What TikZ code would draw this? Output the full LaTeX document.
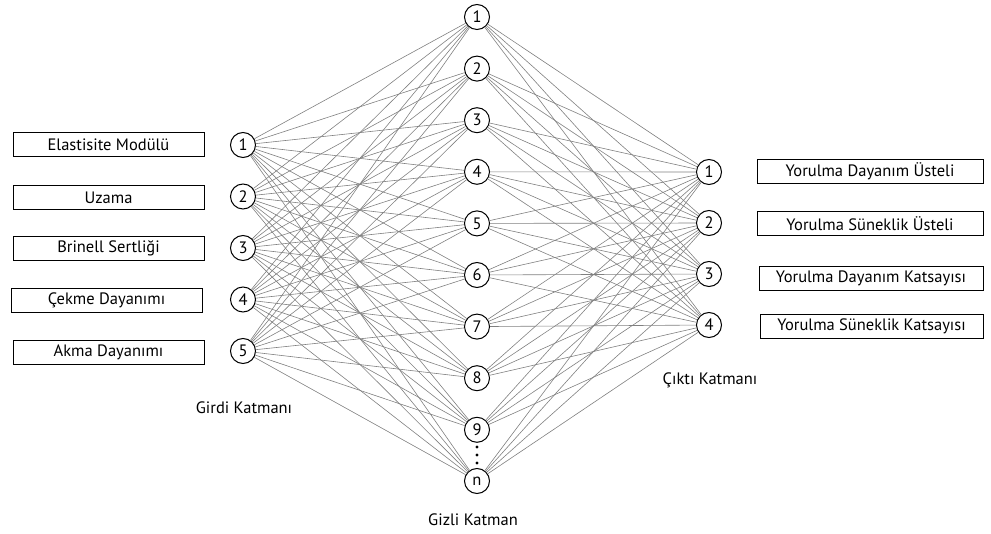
\documentclass[tikz,border=0pt]{standalone}
\usepackage{fontspec}
\setmainfont{PT Sans}
\begin{document}
\begin{tikzpicture}[x=1pt,y=-1pt,
  neuron/.style={circle,draw,line width=1pt,minimum size=25pt,inner sep=0pt,
    font=\fontsize{16.5}{16}\selectfont},
  labelbox/.style={draw,line width=1pt,minimum height=24pt,inner sep=0pt,
    font=\fontsize{16.5}{18}\selectfont},
  link/.style={draw=black!50,line width=0.6pt},
  layername/.style={font=\fontsize{16.5}{18}\selectfont}]
\useasboundingbox (0,0) rectangle (991,534);

% input layer
\foreach \i in {1,...,5}
  \node[neuron] (in\i) at (243,{145+51.5*(\i-1)}) {\i};
% hidden layer
\foreach \i in {1,...,9}
  \node[neuron] (hid\i) at (477,{17+51.6*(\i-1)}) {\i};
\node[neuron] (hid10) at (477,481) {n};
% output layer
\foreach \i in {1,...,4}
  \node[neuron] (out\i) at (709,{172+51*(\i-1)}) {\i};

% dense connections
\foreach \i in {1,...,5}
  \foreach \j in {1,...,10}
    \draw[link] (in\i) -- (hid\j);
\foreach \j in {1,...,10}
  \foreach \k in {1,...,4}
    \draw[link] (hid\j) -- (out\k);

% ellipsis between 9 and n
\foreach \y in {447,455,463}
  \fill (477,\y) circle (1.7pt);

% input labels
\node[labelbox,minimum width=191pt] (b1) at (108.5,145) {Elastisite Modülü};
\node[labelbox,minimum width=191pt] (b2) at (108.5,197.5) {Uzama};
\node[labelbox,minimum width=191pt] (b3) at (108.5,248.5) {Brinell Sertliği};
\node[labelbox,minimum width=191pt] (b4) at (106.5,300.5) {Çekme Dayanımı};
\node[labelbox,minimum width=191pt] (b5) at (108.5,352.5) {Akma Dayanımı};

% output labels
\node[labelbox,minimum width=226pt] (o1) at (870,171.5) {Yorulma Dayanım Üsteli};
\node[labelbox,minimum width=226pt] (o2) at (870,223.5) {Yorulma Süneklik Üsteli};
\node[labelbox,minimum width=224pt] (o3) at (871,278.5) {Yorulma Dayanım Katsayısı};
\node[labelbox,minimum width=223pt] (o4) at (871.5,326.5) {Yorulma Süneklik Katsayısı};

% layer names
\node[layername] (lin) at (244,408) {Girdi Katmanı};
\node[layername] (lhid) at (473,520) {Gizli Katman};
\node[layername] (lout) at (710,380) {Çıktı Katmanı};
\end{tikzpicture}
\end{document}
